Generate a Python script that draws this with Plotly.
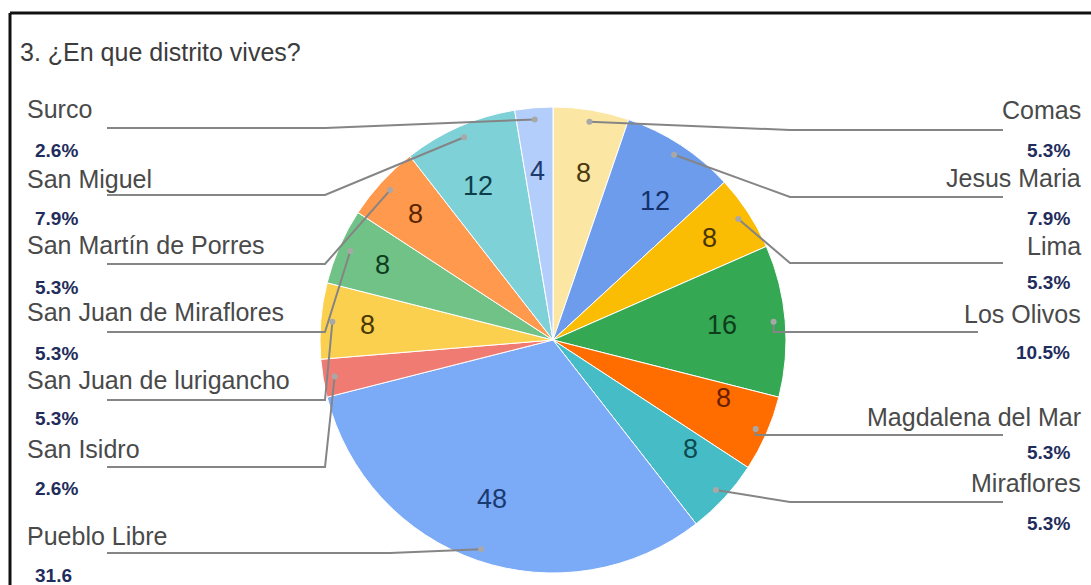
import math
import plotly.graph_objects as go

# Survey answers: district of residence
districts = [
    "Comas", "Jesus Maria", "Lima", "Los Olivos", "Magdalena del Mar", "Miraflores",
    "Pueblo Libre", "San Isidro", "San Juan de lurigancho", "San Juan de Miraflores",
    "San Martín de Porres", "San Miguel", "Surco",
]
counts = [8, 12, 8, 16, 8, 8, 48, 4, 8, 8, 8, 12, 4]
title_text = "3. ¿En que distrito vives?"

# Styling
slice_colors = [
    "#FCE6A4", "#6C9CEB", "#FBBC04", "#34A853", "#FF6D01", "#46BDC6",
    "#7BAAF7", "#F07B72", "#FCD04F", "#71C287", "#FF994D", "#7ED1D7", "#B3CEFB",
]
value_colors = [
    "#4A3A10", "#14316B", "#4A3500", "#0D3D1C", "#6B1D00", "#0D4A50",
    "#1A3A72", "#6B1F1A", "#4A3A00", "#0E3D1E", "#5A2500", "#0D3D4A", "#1D3B6E",
]
hidden_values = {"San Isidro"}
no_pct_sign = {"Pueblo Libre"}

W, H = 1091, 585
CX, CY, R = 553, 340, 233          # pie centre and radius in pixels
FONT = "Arial, Liberation Sans, sans-serif"
LABEL_COLOR = "#4a4a4a"
PCT_COLOR = "#1f2d5c"
LEADER_COLOR = "#858585"

# Label rows: (side, text y, line y, percent y, far end of the leader) in pixels
label_rows = {
    "Comas": ("right", 110, 130, 150, 1003),
    "Jesus Maria": ("right", 178, 197, 218, 1003),
    "Lima": ("right", 246, 263, 282, 1003),
    "Los Olivos": ("right", 314, 332, 352, 978),
    "Magdalena del Mar": ("right", 417, 435, 452, 1003),
    "Miraflores": ("right", 483, 502, 523, 1003),
    "Pueblo Libre": ("left", 536, 553, 575, 107),
    "San Isidro": ("left", 449, 467, 488, 107),
    "San Juan de lurigancho": ("left", 380, 400, 418, 107),
    "San Juan de Miraflores": ("left", 312, 332, 353, 107),
    "San Martín de Porres": ("left", 245, 264, 287, 107),
    "San Miguel": ("left", 179, 195, 218, 107),
    "Surco": ("left", 109, 128, 150, 107),
}


def px(x):
    return x / W


def py(y):
    return 1 - y / H


def polar(theta_deg, r):
    t = math.radians(theta_deg)
    return CX + r * math.sin(t), CY - r * math.cos(t)


total = sum(counts)

fig = go.Figure()
fig.add_trace(go.Pie(
    labels=districts,
    values=counts,
    sort=False,
    direction="clockwise",
    rotation=0,
    marker=dict(colors=slice_colors, line=dict(color="white", width=1)),
    textinfo="none",
    hoverinfo="label+value+percent",
    showlegend=False,
    domain=dict(x=[px(CX - R), px(CX + R)], y=[py(CY + R), py(CY - R)]),
))

shapes = []
annotations = []

# Page frame
shapes.append(dict(type="line", xref="paper", yref="paper", x0=px(10), x1=1, y0=py(13), y1=py(13),
                   line=dict(color="#111111", width=3)))
shapes.append(dict(type="line", xref="paper", yref="paper", x0=px(10), x1=px(10), y0=py(13), y1=0,
                   line=dict(color="#111111", width=3)))

annotations.append(dict(text=title_text, x=px(18), y=py(52), xref="paper", yref="paper",
                        xanchor="left", yanchor="middle", showarrow=False,
                        font=dict(family=FONT, size=25, color="#3c3c3c")))

cum = 0
for name, v, vcol in zip(districts, counts, value_colors):
    mid = (cum + v / 2) / total * 360
    cum += v

    # value inside the slice
    if name not in hidden_values:
        vx, vy = polar(mid, 0.8 * R)
        annotations.append(dict(text=str(v), x=px(vx), y=py(vy), xref="paper", yref="paper",
                                showarrow=False, font=dict(family=FONT, size=27, color=vcol)))

    # leader line from the slice to its label row
    dx, dy = polar(mid, 0.95 * R)
    side, ty, ly, pyy, end = label_rows[name]
    if side == "right":
        elbow, tx, tanchor, pct_x = 790, 1083, "right", 1072
        if dx > elbow - 50:
            elbow = dx
    else:
        elbow, tx, tanchor, pct_x = 325, 25, "left", 33
        if name == "Pueblo Libre":
            elbow = 390
    path = f"M {px(dx)},{py(dy)} L {px(elbow)},{py(ly)} L {px(end)},{py(ly)}"
    shapes.append(dict(type="path", xref="paper", yref="paper", path=path, layer="above",
                       line=dict(color=LEADER_COLOR, width=2)))
    shapes.append(dict(type="circle", xref="paper", yref="paper", layer="above",
                       x0=px(dx - 3), x1=px(dx + 3), y0=py(dy + 3), y1=py(dy - 3),
                       fillcolor="#a8a8a8", line=dict(color="#a8a8a8", width=0)))

    # district name and share
    annotations.append(dict(text=name, x=px(tx), y=py(ty), xref="paper", yref="paper",
                            xanchor=tanchor, yanchor="middle", showarrow=False,
                            font=dict(family=FONT, size=25, color=LABEL_COLOR)))
    pct = f"{v / total * 100:.1f}" + ("" if name in no_pct_sign else "%")
    annotations.append(dict(text=f"<b>{pct}</b>", x=px(pct_x), y=py(pyy), xref="paper", yref="paper",
                            xanchor=tanchor, yanchor="middle", showarrow=False,
                            font=dict(family=FONT, size=19, color=PCT_COLOR)))

fig.update_layout(
    width=W, height=H,
    margin=dict(l=0, r=0, t=0, b=0),
    paper_bgcolor="white",
    plot_bgcolor="white",
    shapes=shapes,
    annotations=annotations,
)

fig.write_html("out.html", config={"displayModeBar": False})
